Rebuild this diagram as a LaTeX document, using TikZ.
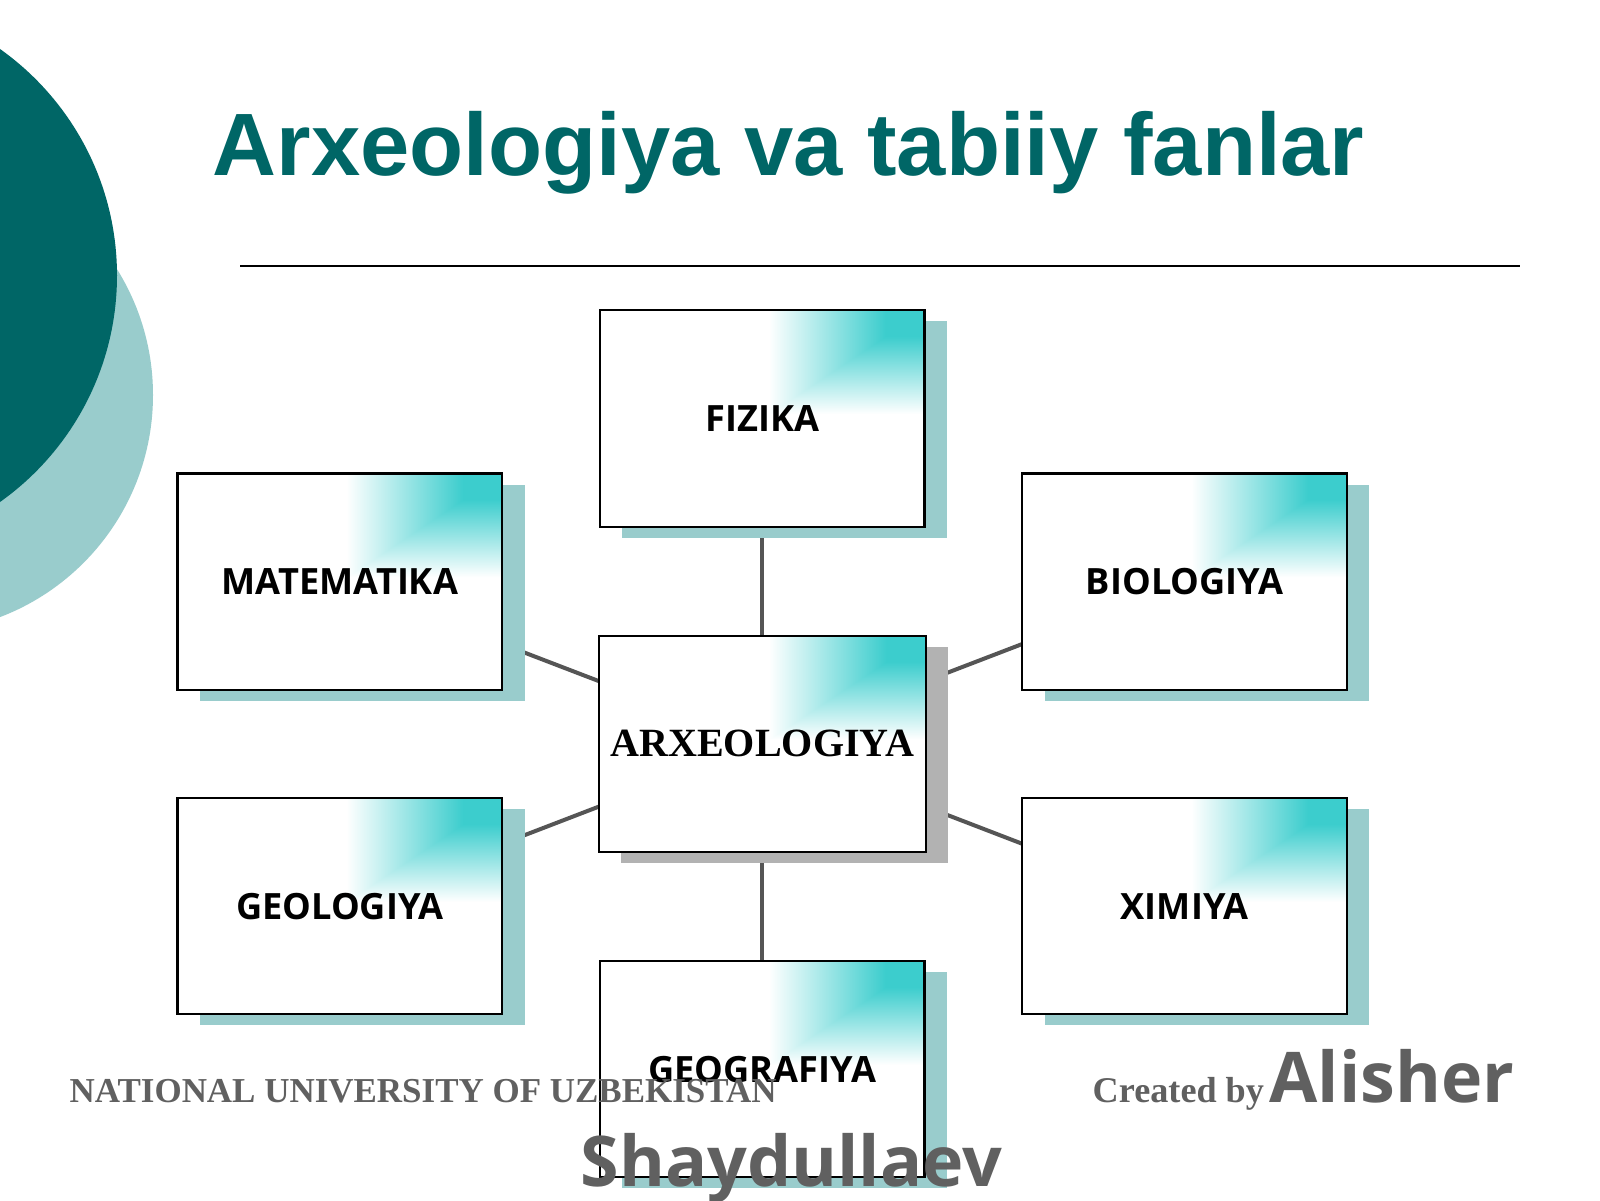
\documentclass[tikz,border=0pt]{standalone}
\usepackage{fontspec}
\setmainfont{Liberation Serif}
\newfontfamily\titlefont{Liberation Sans}
\newfontfamily\labelfont{Open Sans}
\usetikzlibrary{positioning,shadows,backgrounds}

\definecolor{darkteal}{RGB}{0,102,102}
\definecolor{paleteal}{RGB}{153,204,204}
\definecolor{linegray}{RGB}{85,85,85}
\definecolor{footgray}{RGB}{96,96,96}
\definecolor{shadowgray}{RGB}{178,178,178}

% teal glow in the top right corner of each box
\pgfdeclarefunctionalshading{cornerglow}{\pgfpointorigin}{\pgfpoint{100bp}{100bp}}{}{
  75 exch sub 50 div
  exch 75 exch sub 50 div
  2 copy lt {exch} if pop
  0.12 sub 0.36 div
  dup 0 lt {pop 0} if
  dup 1 gt {pop 1} if
  dup 0.765 mul 0.235 add
  exch dup 0.196 mul 0.804 add
  exch 0.196 mul 0.804 add
}

\tikzstyle{plainbox} = [rectangle, minimum width=3.245cm, minimum height=2.163cm, text centered, draw=black, line width=0.6pt, shade, shading=cornerglow]
\tikzstyle{topicbox} = [plainbox, drop shadow={shadow xshift=2.25mm, shadow yshift=-1.1mm, fill=paleteal, opacity=1}, font=\labelfont\bfseries\fontsize{10.3}{12}\selectfont]
\tikzstyle{corebox} = [plainbox, drop shadow={shadow xshift=2.25mm, shadow yshift=-1.1mm, fill=shadowgray, opacity=1}, font=\bfseries\fontsize{11.4}{13}\selectfont]
\tikzstyle{connect} = [line width=0.4mm, draw=linegray]
\tikzstyle{foottext} = [anchor=base west, inner sep=0, text=footgray]

\begin{document}
\begin{tikzpicture}[node distance=4.224cm]
\useasboundingbox (0,0) rectangle (16,12);

% round shapes on the left
\fill[paleteal] (-0.846,8.05) circle (2.376);
\fill[darkteal] (-1.607,9.245) circle (2.777);

\node (title) [anchor=base west, inner sep=0, text=darkteal, font=\titlefont\bfseries\fontsize{25.2}{30}\selectfont] at (2.12,10.245) {Arxeologiya va tabiiy fanlar};
\draw[line width=0.6pt] (2.40,9.337) -- (15.20,9.337);

\node (arx) [corebox] at (7.622,4.562) {ARXEOLOGIYA};
\node (fiz) [topicbox, node distance=3.254cm, above of=arx] {FIZIKA};
\node (geog) [topicbox, node distance=3.254cm, below of=arx] {GEOGRAFIYA};
\node (matem) [topicbox, left of=arx, yshift=1.621cm] {MATEMATIKA};
\node (biol) [topicbox, right of=arx, yshift=1.621cm] {BIOLOGIYA};
\node (geol) [topicbox, left of=arx, yshift=-1.624cm] {GEOLOGIYA};
\node (xim) [topicbox, right of=arx, yshift=-1.624cm] {XIMIYA};

\begin{scope}[on background layer]
\fill[white] (0,0) rectangle (16,12);
\draw [connect] (arx.center) -- (fiz.center);
\draw [connect] (arx.center) -- (geog.center);
\draw [connect] (arx.center) -- (matem.center);
\draw [connect] (arx.center) -- (biol.center);
\draw [connect] (arx.center) -- (geol.center);
\draw [connect] (arx.center) -- (xim.center);
\end{scope}

\node (univ) [foottext, font=\bfseries\fontsize{9.95}{12}\selectfont] at (0.69,0.973) {NATIONAL UNIVERSITY OF UZBEKISTAN};
\node (created) [foottext, font=\bfseries\fontsize{10.3}{12}\selectfont] at (10.92,0.973) {Created by};
\node (first) [foottext, font=\labelfont\bfseries\fontsize{19.9}{24}\selectfont] at (12.69,0.973) {Alisher};
\node (last) [foottext, font=\labelfont\bfseries\fontsize{19.9}{24}\selectfont] at (5.80,0.133) {Shaydullaev};
\end{tikzpicture}
\end{document}
